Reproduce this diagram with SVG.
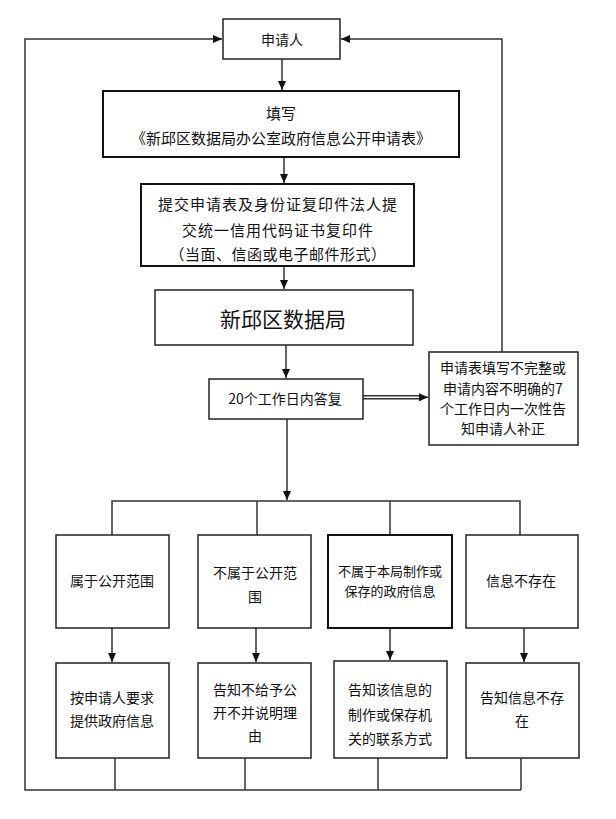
<svg xmlns="http://www.w3.org/2000/svg" width="616" height="819" viewBox="0 0 616 819">
<defs>
<marker id="ah" markerWidth="10" markerHeight="8" refX="9" refY="4" orient="auto" markerUnits="userSpaceOnUse">
<path d="M0,0 L9,4 L0,8 Z" fill="#111"/>
</marker>
<style>
.box{fill:#fff;stroke:#222;stroke-width:1.5}
.bx2{fill:#fff;stroke:#111;stroke-width:2}
.ln{fill:none;stroke:#333;stroke-width:1.5}
.t{font-family:"Noto Sans CJK SC","Noto Sans",sans-serif;font-size:14px;fill:#111;text-anchor:middle;dominant-baseline:central}
</style>
</defs>
<rect width="616" height="819" fill="#fff"/>
<g id="connectors">
<line class="ln" x1="282" y1="59" x2="282" y2="90" marker-end="url(#ah)"/>
<line class="ln" x1="284" y1="157" x2="284" y2="183" marker-end="url(#ah)"/>
<line class="ln" x1="284" y1="266" x2="284" y2="289" marker-end="url(#ah)"/>
<line class="ln" x1="286" y1="345" x2="286" y2="378" marker-end="url(#ah)"/>
<line class="ln" x1="363" y1="395.8" x2="422" y2="395.8"/>
<line class="ln" x1="363" y1="398.8" x2="422" y2="398.8"/>
<line class="ln" x1="420" y1="397.3" x2="428" y2="397.3" marker-end="url(#ah)"/>
<line class="ln" x1="287" y1="419" x2="287" y2="500" marker-end="url(#ah)"/>
<polyline class="ln" points="112,535 112,501 520,501 520,535"/>
<line class="ln" x1="257" y1="501" x2="257" y2="535"/>
<line class="ln" x1="390" y1="501" x2="390" y2="535"/>
<line class="ln" x1="112" y1="628" x2="112" y2="662" marker-end="url(#ah)"/>
<line class="ln" x1="256" y1="628" x2="256" y2="662" marker-end="url(#ah)"/>
<line class="ln" x1="390" y1="628" x2="390" y2="660" marker-end="url(#ah)"/>
<line class="ln" x1="524" y1="628" x2="524" y2="662" marker-end="url(#ah)"/>
<line class="ln" x1="115" y1="758" x2="115" y2="790"/>
<line class="ln" x1="245" y1="758" x2="245" y2="790"/>
<line class="ln" x1="378" y1="758" x2="378" y2="790"/>
<line class="ln" x1="521" y1="758" x2="521" y2="790"/>
<polyline class="ln" points="521,790 25,790 25,39 222,39" marker-end="url(#ah)"/>
<polyline class="ln" points="502,352 502,39 341,39" marker-end="url(#ah)"/>
</g>
<g id="n1"><rect class="box" x="223" y="19" width="117" height="40"/><text class="t" x="282" y="39">申请人</text></g>
<g id="n2"><rect class="bx2" x="103" y="91" width="356" height="66"/><text class="t" x="281" y="112" style="font-size:15px">填写</text><text class="t" x="281" y="137" style="font-size:15px">《新邱区数据局办公室政府信息公开申请表》</text></g>
<g id="n3"><rect class="bx2" x="141" y="184" width="273" height="82"/>
<text class="t" x="278" y="203" style="font-size:15px;letter-spacing:1px">提交申请表及身份证复印件法人提</text>
<text class="t" x="278" y="229" style="font-size:15px;letter-spacing:1px">交统一信用代码证书复印件</text>
<text class="t" x="278" y="253" style="font-size:15px;letter-spacing:0.5px">（当面、信函或电子邮件形式）</text></g>
<g id="n4"><rect class="box" x="155" y="290" width="258" height="55"/><text class="t" x="283" y="318" style="font-size:21px">新邱区数据局</text></g>
<g id="n5"><rect class="box" x="209" y="379" width="154" height="40"/><text class="t" x="285" y="398">20个工作日内答复</text></g>
<g id="n6"><rect class="box" x="429" y="352" width="149" height="93"/>
<text class="t" x="503" y="367">申请表填写不完整或</text>
<text class="t" x="503" y="388">申请内容不明确的7</text>
<text class="t" x="503" y="408">个工作日内一次性告</text>
<text class="t" x="503" y="428">知申请人补正</text></g>
<g id="r1a"><rect class="box" x="56" y="535" width="113" height="93"/><text class="t" x="112" y="580">属于公开范围</text></g>
<g id="r1b"><rect class="box" x="198" y="535" width="113" height="93"/><text class="t" x="255" y="572">不属于公开范</text><text class="t" x="255" y="596">围</text></g>
<g id="r1c"><rect class="bx2" x="328" y="535" width="124" height="93"/><text class="t" x="390" y="570" style="font-size:13px">不属于本局制作或</text><text class="t" x="390" y="590" style="font-size:13px">保存的政府信息</text></g>
<g id="r1d"><rect class="box" x="466" y="535" width="112" height="93"/><text class="t" x="521" y="580">信息不存在</text></g>
<g id="r2a"><rect class="box" x="56" y="663" width="113" height="95"/><text class="t" x="112" y="697">按申请人要求</text><text class="t" x="112" y="720">提供政府信息</text></g>
<g id="r2b"><rect class="box" x="198" y="663" width="113" height="95"/><text class="t" x="255" y="689">告知不给予公</text><text class="t" x="255" y="712">开不并说明理</text><text class="t" x="255" y="735">由</text></g>
<g id="r2c"><rect class="box" x="334" y="661" width="113" height="97"/><text class="t" x="390" y="689">告知该信息的</text><text class="t" x="390" y="714">制作或保存机</text><text class="t" x="390" y="738">关的联系方式</text></g>
<g id="r2d"><rect class="box" x="466" y="663" width="113" height="95"/><text class="t" x="522" y="697">告知信息不存</text><text class="t" x="522" y="720">在</text></g>
</svg>
